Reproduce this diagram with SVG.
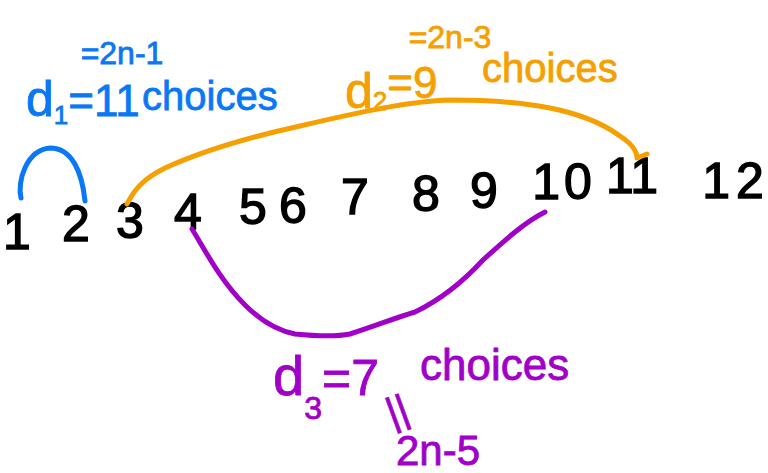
<svg xmlns="http://www.w3.org/2000/svg" width="768" height="473" viewBox="0 0 768 473">
<style>
text{font-family:"Liberation Sans","DejaVu Sans",sans-serif;}
.num{fill:#000;stroke:#000;stroke-width:1.4;font-size:50px;text-anchor:middle;}
.blue{fill:#0a78f5;stroke:#0a78f5;stroke-width:0.8;}
.orange{fill:#f5a000;stroke:#f5a000;stroke-width:0.8;}
.purple{fill:#a000c8;stroke:#a000c8;stroke-width:0.8;}
.curve{fill:none;stroke-width:5;stroke-linecap:round;stroke-linejoin:round;}
</style>
<rect width="768" height="473" fill="#fff"/>
<g id="numbers">
<text class="num" x="17" y="249" font-size="56">1</text>
<text class="num" x="76" y="241">2</text>
<text class="num" x="130" y="238">3</text>
<text class="num" x="188" y="229">4</text>
<text class="num" x="253" y="224">5</text>
<text class="num" x="293" y="223">6</text>
<text class="num" x="355" y="214">7</text>
<text class="num" x="426" y="211">8</text>
<text class="num" x="484" y="208">9</text>
<text class="num" x="562" y="199">1<tspan dx="4">0</tspan></text>
<text class="num" x="632" y="193">11</text>
<text class="num" x="733" y="198">1<tspan dx="6">2</tspan></text>
</g>
<g id="connectors">
<path class="curve" stroke="#0a78f5" d="M21,198 C17,182 26,150 50,148 C72,148 82,172 85,201"/>
<path class="curve" stroke="#f5a000" d="M127,204 C135,188 145,178 165,168 C200,152 250,137 300,126 C360,112 410,101 450,100 C500,100 530,104 550,108 C580,114 605,125 620,136 C632,144 637,152 637,158 L647,154"/>
<path class="curve" stroke="#a000c8" d="M192,229 C205,250 220,280 245,305 C260,320 275,330 295,334 C315,336 335,337 350,334 C375,326 395,318 415,312 C440,300 460,285 483,260 C505,240 525,222 545,212"/>
</g>
<g id="label-d1">
<text class="blue" x="122" y="64" font-size="32" text-anchor="middle">=2n-1</text>
<text class="blue" x="26" y="116" font-size="50">d<tspan font-size="26" dy="8">1</tspan><tspan dy="-8" font-size="44">=11</tspan></text>
<text class="blue" x="142" y="110" font-size="40">choices</text>
</g>
<g id="label-d2">
<text class="orange" x="450" y="48" font-size="32" text-anchor="middle">=2n-3</text>
<text class="orange" x="345" y="108" font-size="50">d<tspan font-size="26" dy="2">2</tspan><tspan dy="-12" font-size="44">=9</tspan></text>
<text class="orange" x="482" y="82" font-size="40">choices</text>
</g>
<g id="label-d3">
<text class="purple" x="273" y="395" font-size="56">d<tspan font-size="32" dy="24">3</tspan><tspan dy="-24" font-size="50">=7</tspan></text>
<text class="purple" x="420" y="380" font-size="44">choices</text>
<text class="purple" x="397" y="424" font-size="40" text-anchor="middle" transform="rotate(-20 397 410)">||</text>
<text class="purple" x="438" y="465" font-size="42" text-anchor="middle">2n-5</text>
</g>
</svg>
